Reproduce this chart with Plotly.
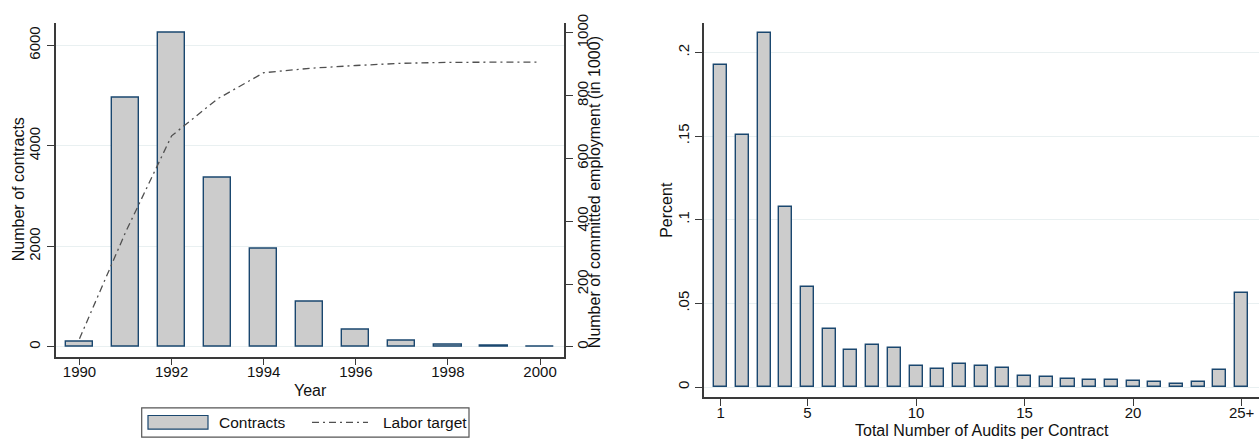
import plotly.graph_objects as go

# Contracts signed per year and cumulative committed employment (in 1000)
years = [1990, 1991, 1992, 1993, 1994, 1995, 1996, 1997, 1998, 1999, 2000]
contracts = [110, 4960, 6240, 3365, 1960, 905, 338, 130, 52, 15, 10]
labor_target = [26, 365, 672, 790, 873, 887, 896, 903, 906, 907, 907]

# Distribution of audits per contract (last bin is 25 or more)
audits = [1, 2, 3, 4, 5, 6, 7, 8, 9, 10, 11, 12, 13, 14, 15, 16, 17, 18, 19, 20,
          21, 22, 23, 24, 25]
audit_share = [0.1922, 0.1509, 0.2115, 0.1079, 0.0599, 0.0347, 0.0219, 0.0254,
               0.0232, 0.0127, 0.0107, 0.0137, 0.0125, 0.0115, 0.0068, 0.0062,
               0.0051, 0.0043, 0.0043, 0.0037, 0.0031, 0.0020, 0.0031, 0.0100,
               0.0560]
audit_ticks = [1, 5, 10, 15, 20, 25]
audit_tick_text = ["1", "5", "10", "15", "20", "25+"]

FONT = "Liberation Sans, Arial, sans-serif"
BAR_FILL = "#cccccc"
BAR_LINE = "#1a476f"
GRID = "#e9f0f1"
AXIS = "#3a3a3a"
TEXT = "#111111"
W, H = 1259, 439


def px_x(p):
    return p / W


def px_y(p):
    return 1 - p / H


fig = go.Figure()

fig.add_trace(go.Bar(
    x=years, y=contracts, width=0.59, xaxis="x", yaxis="y",
    marker=dict(color=BAR_FILL, line=dict(color=BAR_LINE, width=1.4)),
    name="Contracts", showlegend=False,
))
fig.add_trace(go.Scatter(
    x=years, y=labor_target, xaxis="x", yaxis="y2", mode="lines",
    line=dict(color="#505050", width=1.3, dash="7px,4px,2px,4px"),
    name="Labor target", showlegend=False,
))
fig.add_trace(go.Bar(
    x=audits, y=audit_share, width=0.6, xaxis="x2", yaxis="y3",
    marker=dict(color=BAR_FILL, line=dict(color=BAR_LINE, width=1.4)),
    showlegend=False,
))

tick_font = dict(family=FONT, size=15, color=TEXT)
common = dict(showline=True, linecolor=AXIS, linewidth=1.5, ticks="outside",
              ticklen=7, tickcolor=AXIS, tickwidth=1.2, tickfont=tick_font,
              zeroline=False)

fig.update_layout(
    width=W, height=H,
    margin=dict(l=0, r=0, t=0, b=0),
    paper_bgcolor="white", plot_bgcolor="white",
    font=dict(family=FONT, size=15, color=TEXT),
    bargap=0,
    xaxis=dict(domain=[px_x(56), px_x(564)], anchor="y",
               range=[1989.49, 2000.52], tickmode="array",
               tickvals=[1990, 1992, 1994, 1996, 1998, 2000],
               ticklabelstandoff=-6, showgrid=False, **common),
    yaxis=dict(domain=[px_y(355), px_y(14)], anchor="x",
               range=[-195, 6448], tickmode="array",
               tickvals=[0, 2000, 4000, 6000], tickangle=-90,
               ticklabelstandoff=1,
               showgrid=True, gridcolor=GRID, gridwidth=1, **common),
    yaxis2=dict(overlaying="y", side="right", anchor="x",
                range=[-31.2, 1032.2], tickmode="array",
                tickvals=[0, 200, 400, 600, 800, 1000], tickangle=-90,
                ticklabelstandoff=-3, showgrid=False, **common),
    xaxis2=dict(domain=[px_x(704), 1.0], anchor="y3",
                range=[0.23, 25.8], tickmode="array",
                tickvals=audit_ticks, ticktext=audit_tick_text,
                ticklabelstandoff=-6, showgrid=False, **common),
    yaxis3=dict(domain=[px_y(396), px_y(14.3)], anchor="x2",
                range=[-0.00585, 0.21756], tickmode="array",
                tickvals=[0, 0.05, 0.1, 0.15, 0.2],
                ticktext=["0", ".05", ".1", ".15", ".2"], tickangle=-90,
                showgrid=True, gridcolor=GRID, gridwidth=1, **common),
)

title_font = dict(family=FONT, size=16, color=TEXT)
legend_font = dict(family=FONT, size=15.5, color=TEXT)
annotations = [
    dict(text="Year", x=px_x(310), y=px_y(389), font=title_font),
    dict(text="Number of contracts", x=px_x(18.5), y=px_y(184.5),
         textangle=-90, font=title_font),
    dict(text="Number of committed employment (in 1000)", x=px_x(594),
         y=px_y(187), textangle=-90, font=title_font),
    dict(text="Percent", x=px_x(667), y=px_y(205), textangle=-90,
         font=title_font),
    dict(text="Total Number of Audits per Contract", x=px_x(981.5),
         y=px_y(430), font=title_font),
    dict(text="Contracts", x=px_x(217), y=px_y(422), xanchor="left",
         font=legend_font),
    dict(text="Labor target", x=px_x(381), y=px_y(422), xanchor="left",
         font=legend_font),
]
for a in annotations:
    a.setdefault("xanchor", "center")
    fig.add_annotation(xref="paper", yref="paper", yanchor="middle",
                       showarrow=False, **a)

# Legend box with its bar swatch and line sample
fig.add_shape(type="rect", xref="paper", yref="paper",
              x0=px_x(141.7), x1=px_x(469), y0=px_y(437), y1=px_y(407.3),
              line=dict(color="#555555", width=1.2), fillcolor="white")
fig.add_shape(type="rect", xref="paper", yref="paper",
              x0=px_x(148), x1=px_x(208), y0=px_y(429), y1=px_y(415),
              line=dict(color=BAR_LINE, width=1.2), fillcolor=BAR_FILL)
fig.add_shape(type="line", xref="paper", yref="paper",
              x0=px_x(312), x1=px_x(368), y0=px_y(422), y1=px_y(422),
              line=dict(color="#505050", width=1.3, dash="7px,4px,2px,4px"))

fig.write_html("out.html")
